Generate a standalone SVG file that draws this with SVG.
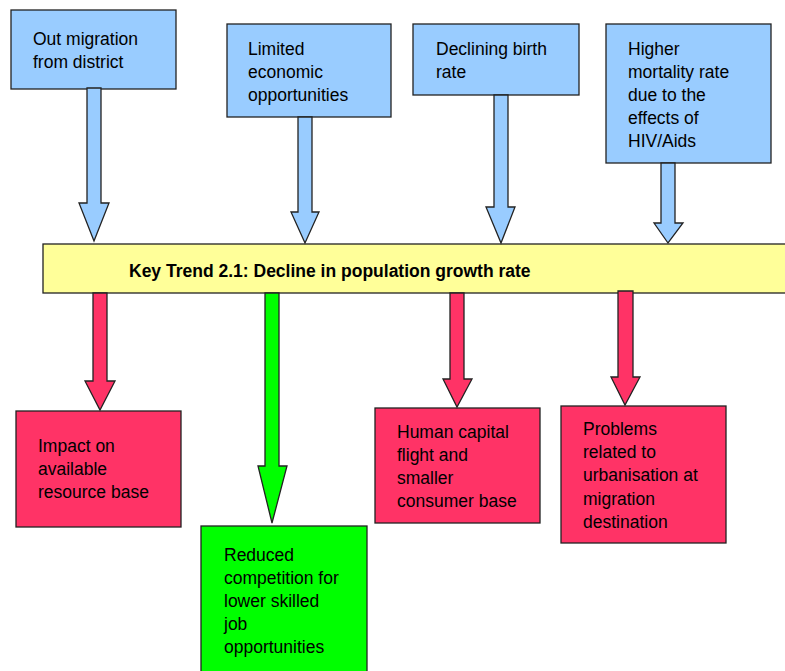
<svg xmlns="http://www.w3.org/2000/svg" width="785" height="671" viewBox="0 0 785 671">
  <style>
    .box { stroke: #222; stroke-width: 1.3; }
    .cause { fill: #99CCFF; }
    .trend { fill: #FFFF99; }
    .neg { fill: #FF3366; }
    .pos { fill: #00FF00; }
    .arrow { stroke: #222; stroke-width: 1.3; stroke-linejoin: miter; }
    text { font-family: "Liberation Sans", Arial, sans-serif; font-size: 17.5px; fill: #000; }
    .title { font-weight: bold; }
  </style>

  <!-- cause boxes -->
  <g id="out-migration">
    <rect class="box cause" x="11" y="10" width="165" height="79"/>
    <text x="33"><tspan x="33" y="45">Out migration</tspan><tspan x="33" y="68">from district</tspan></text>
  </g>
  <g id="limited-economic">
    <rect class="box cause" x="227" y="24" width="164" height="93"/>
    <text><tspan x="248" y="55">Limited</tspan><tspan x="248" y="78">economic</tspan><tspan x="248" y="101">opportunities</tspan></text>
  </g>
  <g id="declining-birth">
    <rect class="box cause" x="413" y="24" width="166" height="71"/>
    <text><tspan x="436" y="55">Declining birth</tspan><tspan x="436" y="78">rate</tspan></text>
  </g>
  <g id="higher-mortality">
    <rect class="box cause" x="606" y="24" width="165" height="139"/>
    <text><tspan x="628" y="55">Higher</tspan><tspan x="628" y="78">mortality rate</tspan><tspan x="628" y="101">due to the</tspan><tspan x="628" y="124">effects of</tspan><tspan x="628" y="147">HIV/Aids</tspan></text>
  </g>

  <!-- central trend bar -->
  <g id="key-trend">
    <rect class="box trend" x="43" y="244" width="760" height="49"/>
    <text class="title" x="129" y="277">Key Trend 2.1: Decline in population growth rate</text>
  </g>

  <!-- effect boxes -->
  <g id="resource-base">
    <rect class="box neg" x="16" y="411" width="165" height="116"/>
    <text><tspan x="38" y="452">Impact on</tspan><tspan x="38" y="475">available</tspan><tspan x="38" y="498">resource base</tspan></text>
  </g>
  <g id="reduced-competition">
    <rect class="box pos" x="201" y="526" width="166" height="160"/>
    <text><tspan x="224" y="561">Reduced</tspan><tspan x="224" y="584">competition for</tspan><tspan x="224" y="607">lower skilled</tspan><tspan x="224" y="630">job</tspan><tspan x="224" y="653">opportunities</tspan></text>
  </g>
  <g id="human-capital">
    <rect class="box neg" x="375" y="408" width="165" height="115"/>
    <text><tspan x="397" y="438">Human capital</tspan><tspan x="397" y="461">flight and</tspan><tspan x="397" y="484">smaller</tspan><tspan x="397" y="507">consumer base</tspan></text>
  </g>
  <g id="urbanisation">
    <rect class="box neg" x="561" y="406" width="165" height="137"/>
    <text><tspan x="583" y="435">Problems</tspan><tspan x="583" y="458">related to</tspan><tspan x="583" y="481">urbanisation at</tspan><tspan x="583" y="505">migration</tspan><tspan x="583" y="528">destination</tspan></text>
  </g>

  <!-- block arrows -->
  <g id="connectors">
    <polygon class="arrow cause" points="87,88 101,88 101,203 109,203 94,241 79,203 87,203"/>
    <polygon class="arrow cause" points="298,117 312,117 312,212 319,212 305,243 291,212 298,212"/>
    <polygon class="arrow cause" points="494,95 508,95 508,207 515,207 501,243 486,207 494,207"/>
    <polygon class="arrow cause" points="661,163 675,163 675,223 683,223 668,243 654,223 661,223"/>

    <polygon class="arrow neg" points="93,293 107,293 107,381 115,381 100,410 85,381 93,381"/>
    <polygon class="arrow pos" points="265,293 279,293 279,466 287,466 272,523 258,466 265,466"/>
    <polygon class="arrow neg" points="450,293 464,293 464,379 472,379 457,407 443,379 450,379"/>
    <polygon class="arrow neg" points="618,291 633,291 633,377 640,377 625,405 611,377 618,377"/>
  </g>
</svg>
